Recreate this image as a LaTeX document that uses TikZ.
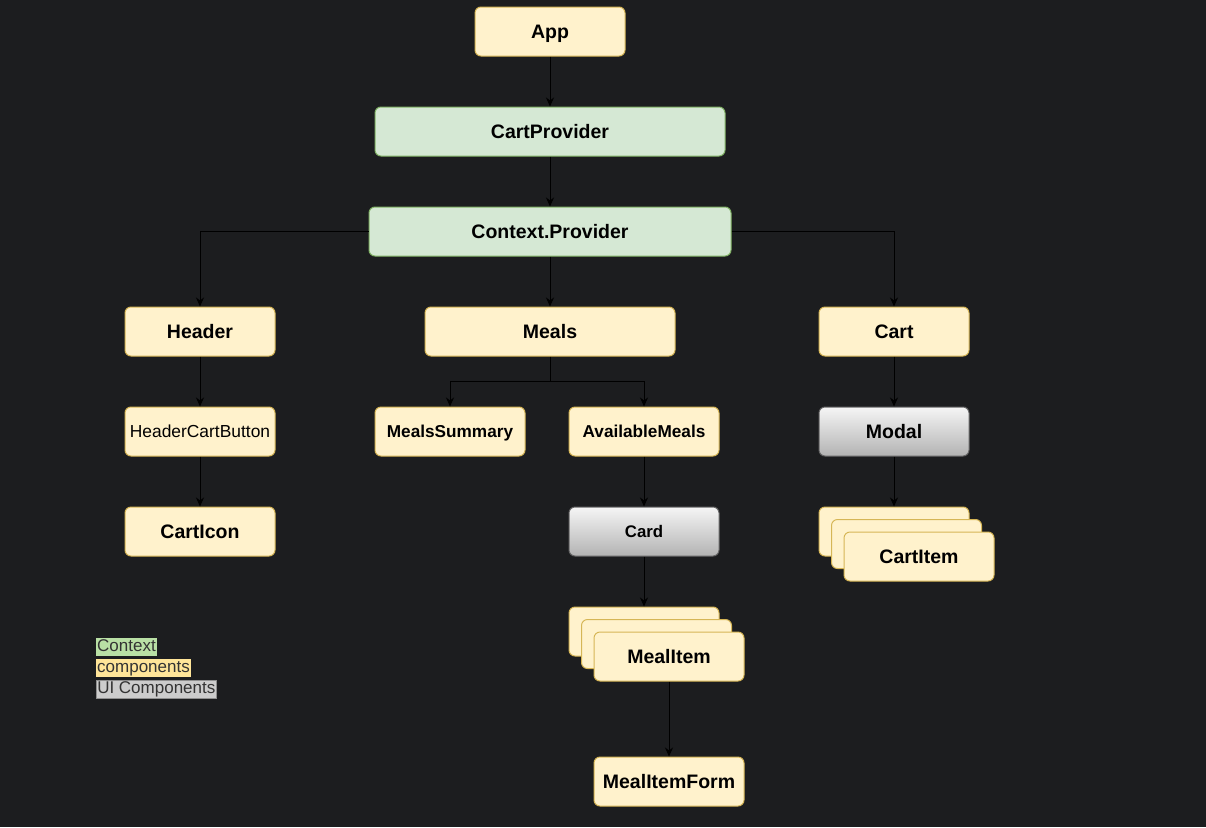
\documentclass[tikz,border=0pt]{standalone}
\usepackage{fontspec}
\setmainfont{Liberation Sans}
\usetikzlibrary{arrows.meta}
\definecolor{bg}{HTML}{1C1D1F}
\definecolor{compfill}{HTML}{FFF2CC}
\definecolor{compline}{HTML}{D6B656}
\definecolor{ctxfill}{HTML}{D5E8D4}
\definecolor{ctxline}{HTML}{82B366}
\definecolor{uitop}{HTML}{F5F5F5}
\definecolor{uibot}{HTML}{B3B3B3}
\definecolor{uiline}{HTML}{666666}
\definecolor{legctx}{HTML}{B9E0A5}
\definecolor{legcomp}{HTML}{FFE599}
\definecolor{legui}{HTML}{CCCCCC}
\definecolor{legtext}{HTML}{333333}
\tikzset{
  base/.style={rounded corners=6pt, line width=1pt, minimum height=49pt, inner sep=0pt,
    font=\bfseries\fontsize{19.5}{22}\selectfont, text=black, text height=14pt, text depth=0pt},
  small/.style={text height=12.4pt},
  comp/.style={base, fill=compfill, draw=compline, minimum width=150pt},
  ctx/.style={base, fill=ctxfill, draw=ctxline},
  ui/.style={base, draw=uiline, top color=uitop, bottom color=uibot, minimum width=150pt},
  arr/.style={-{Stealth[length=9pt,width=8pt]}, line width=1pt, black},
  legend/.style={anchor=west, inner xsep=1pt, inner ysep=0pt, text height=13.5pt, text depth=4.5pt,
    font=\fontsize{17}{19}\selectfont, text=legtext}
}
\begin{document}
\begin{tikzpicture}[x=1pt, y=-1pt]
\fill[bg] (0,0) rectangle (1206,827);
\useasboundingbox (0,0) rectangle (1206,827);

\node[comp] (app) at (550,31.5) {App};
\node[ctx, minimum width=350pt] (cartprov) at (550,131.5) {CartProvider};
\node[ctx, minimum width=362pt] (ctxprov) at (550,231.5) {Context.Provider};

\node[comp] (header) at (200,331.5) {Header};
\node[comp, minimum width=250pt] (meals) at (550,331.5) {Meals};
\node[comp] (cart) at (894,331.5) {Cart};

\node[comp, small, font=\fontsize{17.4}{20}\selectfont] (hcb) at (200,431.5) {HeaderCartButton};
\node[comp, small, font=\bfseries\fontsize{17.2}{20}\selectfont] (summary) at (450,431.5) {MealsSummary};
\node[comp, small, font=\bfseries\fontsize{17.2}{20}\selectfont] (avail) at (644,431.5) {AvailableMeals};
\node[ui] (modal) at (894,431.5) {Modal};

\node[comp] (carticon) at (200,531.5) {CartIcon};
\node[ui, small, font=\bfseries\fontsize{16.8}{20}\selectfont] (card) at (644,531.5) {Card};

\node[comp] (ciA) at (894,531.5) {};
\node[comp] (ciB) at (906.5,544) {};
\node[comp] (ciC) at (919,556.5) {CartItem};

\node[comp] (miA) at (644,631.5) {};
\node[comp] (miB) at (656.5,644) {};
\node[comp] (miC) at (669,656.5) {MealItem};

\node[comp] (mif) at (669,781.5) {MealItemForm};

\coordinate (mj) at (550,381);

\draw[arr] (app) -- (cartprov);
\draw[arr] (cartprov) -- (ctxprov);
\draw[arr] (ctxprov.west) -| (header.north);
\draw[arr] (ctxprov) -- (meals);
\draw[arr] (ctxprov.east) -| (cart.north);
\draw[arr] (header) -- (hcb);
\draw[arr] (hcb) -- (carticon);
\draw[arr] (meals.south) -- (mj) -| (summary.north);
\draw[arr] (mj) -| (avail.north);
\draw[arr] (avail) -- (card);
\draw[arr] (card) -- (miA);
\draw[arr] (miC) -- (mif);
\draw[arr] (cart) -- (modal);
\draw[arr] (modal) -- (ciA);

\node[legend, fill=legctx] (lg1) at (96,646.5) {Context};
\node[legend, fill=legcomp] (lg2) at (96,667.5) {components};
\node[legend, fill=legui, draw=legui!70!black, line width=0.5pt] (lg3) at (96,689) {UI Components};
\end{tikzpicture}
\end{document}
